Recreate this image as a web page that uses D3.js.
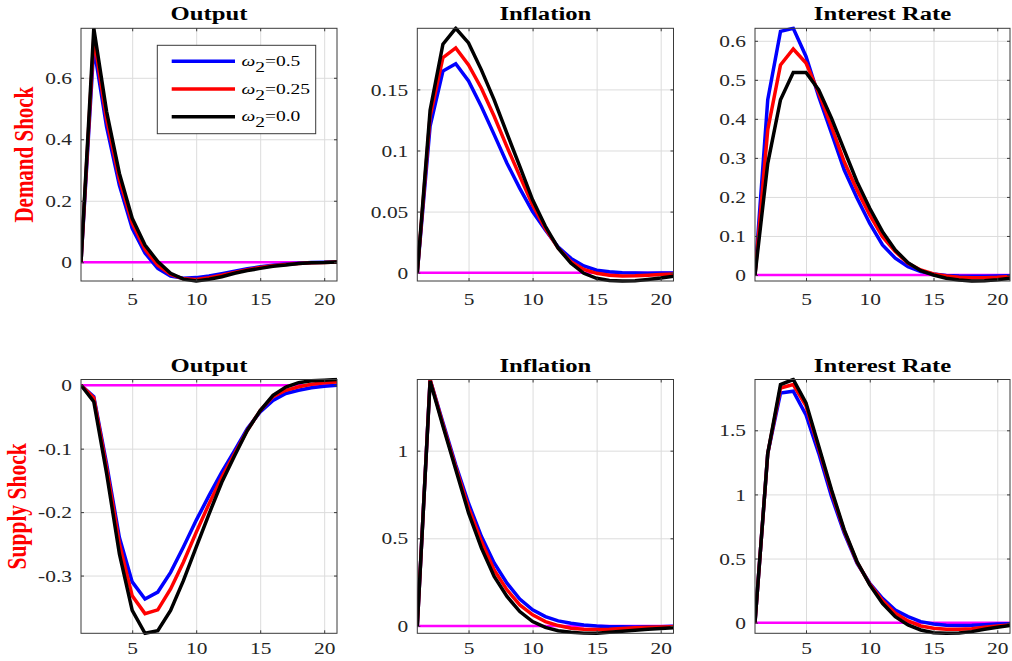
<!DOCTYPE html>
<html>
<head>
<meta charset="utf-8">
<script src="https://cdn.jsdelivr.net/npm/d3@7/dist/d3.min.js"></script>
<style>
  html, body { margin: 0; padding: 0; background: #fff; }
  svg { display: block; }
  text { font-family: 'Liberation Serif', 'Times New Roman', serif; }
</style>
</head>
<body>
<svg id="chart" width="1012" height="661"></svg>
<script>
// ---------------- DATA ----------------
const horizons = [1,2,3,4,5,6,7,8,9,10,11,12,13,14,15,16,17,18,19,20,21];
const seriesNames = ["\u03c9", "\u03c9", "\u03c9"];
const seriesValues = ["0.5", "0.25", "0.0"];
const seriesColors = ["#0000ff", "#ff0000", "#000000"];
const panelTitles = ["Output", "Inflation", "Interest Rate"];
const rowLabels = ["Demand Shock", "Supply Shock"];
const xTicks = [5, 10, 15, 20];

// Demand shock
const demandOutput_w050 = [0,0.700,0.440,0.250,0.110,0.030,-0.020,-0.045,-0.052,-0.050,-0.045,-0.037,-0.029,-0.021,-0.015,-0.010,-0.006,-0.003,-0.001,0.000,0.001];
const demandOutput_w025 = [0,0.730,0.465,0.270,0.127,0.042,-0.010,-0.040,-0.054,-0.056,-0.050,-0.042,-0.033,-0.024,-0.017,-0.011,-0.007,-0.004,-0.002,-0.001,0.001];
const demandOutput_w000 = [0,0.761,0.490,0.289,0.143,0.056,0.002,-0.036,-0.055,-0.061,-0.055,-0.047,-0.036,-0.027,-0.020,-0.013,-0.009,-0.004,-0.002,-0.001,0.001];

const demandInfl_w050 = [0,0.120,0.165,0.171,0.157,0.136,0.113,0.0896,0.069,0.050,0.035,0.021,0.0117,0.0055,0.002,0.0008,0.0000,-0.0003,-0.0004,-0.0003,-0.0002];
const demandInfl_w025 = [0,0.128,0.176,0.184,0.170,0.151,0.128,0.103,0.079,0.0555,0.036,0.020,0.009,0.0027,-0.0005,-0.002,-0.0027,-0.0025,-0.002,-0.0015,-0.001];
const demandInfl_w000 = [0,0.133,0.187,0.200,0.188,0.166,0.1415,0.114,0.087,0.0596,0.038,0.020,0.0077,-0.0005,-0.0046,-0.0064,-0.0068,-0.0066,-0.0055,-0.0044,-0.003];

const demandRate_w050 = [0,0.449,0.624,0.632,0.560,0.457,0.363,0.269,0.197,0.132,0.077,0.043,0.021,0.0085,0.0026,-0.001,-0.0026,-0.003,-0.003,-0.0025,-0.002];
const demandRate_w025 = [0,0.372,0.538,0.579,0.543,0.466,0.380,0.290,0.218,0.154,0.098,0.060,0.030,0.0128,0.0026,-0.0026,-0.006,-0.0068,-0.0068,-0.006,-0.004];
const demandRate_w000 = [0,0.286,0.449,0.519,0.519,0.474,0.402,0.320,0.239,0.171,0.111,0.064,0.0316,0.011,0.000,-0.0085,-0.0128,-0.0154,-0.0145,-0.012,-0.0085];

// Supply shock
const supplyOutput_w050 = [0,-0.018,-0.124,-0.240,-0.310,-0.337,-0.326,-0.295,-0.255,-0.213,-0.174,-0.137,-0.103,-0.068,-0.042,-0.024,-0.013,-0.008,-0.004,-0.0016,0.000];
const supplyOutput_w025 = [0,-0.020,-0.130,-0.250,-0.332,-0.360,-0.354,-0.321,-0.279,-0.232,-0.187,-0.145,-0.108,-0.071,-0.040,-0.018,-0.008,-0.0026,0.0016,0.004,0.005];
const supplyOutput_w000 = [0,-0.026,-0.139,-0.266,-0.355,-0.391,-0.387,-0.355,-0.308,-0.255,-0.203,-0.153,-0.111,-0.071,-0.040,-0.016,-0.003,0.004,0.007,0.008,0.009];

const supplyInfl_w050 = [0,1.405,1.160,0.920,0.700,0.511,0.359,0.244,0.153,0.092,0.053,0.029,0.015,0.006,0.000,-0.004,-0.005,-0.006,-0.004,-0.004,-0.002];
const supplyInfl_w025 = [0,1.406,1.150,0.905,0.674,0.483,0.320,0.206,0.120,0.063,0.025,0.002,-0.013,-0.019,-0.021,-0.019,-0.015,-0.011,-0.008,-0.006,-0.004];
const supplyInfl_w000 = [0,1.398,1.140,0.893,0.645,0.445,0.282,0.168,0.082,0.025,-0.008,-0.027,-0.036,-0.041,-0.042,-0.036,-0.030,-0.025,-0.019,-0.015,-0.011];

const supplyRate_w050 = [0,1.320,1.790,1.805,1.620,1.320,0.984,0.698,0.464,0.307,0.190,0.099,0.047,0.008,-0.010,-0.021,-0.023,-0.021,-0.016,-0.010,-0.008];
const supplyRate_w025 = [0,1.320,1.830,1.857,1.690,1.360,1.020,0.715,0.472,0.300,0.172,0.073,0.013,-0.026,-0.044,-0.052,-0.052,-0.047,-0.036,-0.026,-0.018];
const supplyRate_w000 = [0,1.320,1.857,1.896,1.714,1.375,1.036,0.724,0.477,0.294,0.151,0.047,-0.018,-0.057,-0.078,-0.083,-0.081,-0.070,-0.052,-0.036,-0.023];

const yTicksList = [
  [0, 0.2, 0.4, 0.6],
  [0, 0.05, 0.1, 0.15],
  [0, 0.1, 0.2, 0.3, 0.4, 0.5, 0.6],
  [-0.3, -0.2, -0.1, 0],
  [0, 0.5, 1],
  [0, 0.5, 1, 1.5]
];

const panelSeries = [
  [demandOutput_w050, demandOutput_w025, demandOutput_w000],
  [demandInfl_w050, demandInfl_w025, demandInfl_w000],
  [demandRate_w050, demandRate_w025, demandRate_w000],
  [supplyOutput_w050, supplyOutput_w025, supplyOutput_w000],
  [supplyInfl_w050, supplyInfl_w025, supplyInfl_w000],
  [supplyRate_w050, supplyRate_w025, supplyRate_w000]
];

// ---------------- LAYOUT ----------------
const SX = 1.3; // horizontal stretch of text in the original figure
const svg = d3.select("#chart");
const cols = [{x0: 81, x1: 337}, {x0: 417.3, x1: 673.5}, {x0: 755, x1: 1010}];
const rows = [{y0: 28.3, y1: 281, titleY: 20, xLabPad: 12}, {y0: 379.5, y1: 633.3, titleY: 372.3, xLabPad: 8.5}];
const axisColor = "#3a3a3a";
const gridColor = "#dcdcdc";
const serif = "'Liberation Serif', 'Times New Roman', serif";

function fmt(v) {
  if (v === 0) return "0";
  return String(v);
}

panelSeries.forEach((series, p) => {
  const r = rows[Math.floor(p / 3)], c = cols[p % 3];
  const all = series.flat();
  const ext = d3.extent(all);
  const x = d3.scaleLinear().domain([1, 21]).range([c.x0, c.x1]);
  const y = d3.scaleLinear().domain(ext).range([r.y1, r.y0]);
  const w = c.x1 - c.x0, h = r.y1 - r.y0;
  const g = svg.append("g");

  // grid
  g.append("g").attr("transform", `translate(0,${r.y1})`)
    .call(d3.axisBottom(x).tickValues(xTicks).tickSize(-h).tickFormat(""))
    .call(s => { s.select(".domain").remove(); s.selectAll("line").attr("stroke", gridColor).attr("stroke-width", 1); });
  g.append("g").attr("transform", `translate(${c.x0},0)`)
    .call(d3.axisLeft(y).tickValues(yTicksList[p]).tickSize(-w).tickFormat(""))
    .call(s => { s.select(".domain").remove(); s.selectAll("line").attr("stroke", gridColor).attr("stroke-width", 1); });

  // clip
  const clipId = "clip" + p;
  svg.append("clipPath").attr("id", clipId).append("rect")
    .attr("x", c.x0).attr("y", r.y0 - 2).attr("width", w).attr("height", h + 4);

  const plot = g.append("g").attr("clip-path", `url(#${clipId})`);
  // zero line
  plot.append("line").attr("x1", x(1)).attr("x2", x(21)).attr("y1", y(0)).attr("y2", y(0))
    .attr("stroke", "#ff00ff").attr("stroke-width", 2.5);
  const line = d3.line().x((d, i) => x(horizons[i])).y(d => y(d));
  series.forEach((s, k) => {
    plot.append("path").datum(s).attr("d", line)
      .attr("fill", "none").attr("stroke", seriesColors[k]).attr("stroke-width", 3.5)
      .attr("stroke-linejoin", "miter").attr("stroke-miterlimit", 4);
  });

  // box
  g.append("rect").attr("x", c.x0).attr("y", r.y0).attr("width", w).attr("height", h)
    .attr("fill", "none").attr("stroke", axisColor).attr("stroke-width", 1);

  // ticks (inward, all sides) + labels
  const tl = 3;
  const axB = g.append("g").attr("transform", `translate(0,${r.y1})`)
    .call(d3.axisBottom(x).tickValues(xTicks).tickSize(-tl).tickPadding(r.xLabPad + tl).tickFormat(d3.format("d")));
  axB.attr("font-family", null);
  axB.select(".domain").remove();
  axB.selectAll("line").attr("stroke", axisColor);
  axB.selectAll("text").style("font-family", serif).style("font-size", "16.5px").attr("fill", "#262626")
    .attr("y", r.xLabPad).attr("x", 0).attr("transform", `scale(${SX},1)`);

  const axT = g.append("g").attr("transform", `translate(0,${r.y0})`)
    .call(d3.axisTop(x).tickValues(xTicks).tickSize(-tl).tickFormat(""));
  axT.select(".domain").remove(); axT.selectAll("line").attr("stroke", axisColor);

  const axL = g.append("g").attr("transform", `translate(${c.x0},0)`)
    .call(d3.axisLeft(y).tickValues(yTicksList[p]).tickSize(-tl).tickFormat(fmt));
  axL.attr("font-family", null);
  axL.select(".domain").remove();
  axL.selectAll("line").attr("stroke", axisColor);
  axL.selectAll("text").style("font-family", serif).style("font-size", "16.5px").attr("fill", "#262626")
    .attr("x", -9 / SX).attr("dy", "0.34em").attr("transform", `scale(${SX},1)`);

  const axR = g.append("g").attr("transform", `translate(${c.x1},0)`)
    .call(d3.axisRight(y).tickValues(yTicksList[p]).tickSize(-tl).tickFormat(""));
  axR.select(".domain").remove(); axR.selectAll("line").attr("stroke", axisColor);

  // title
  svg.append("text")
    .attr("transform", `translate(${(c.x0 + c.x1) / 2},${r.titleY}) scale(${SX},1)`)
    .attr("text-anchor", "middle").style("font-family", serif).attr("font-weight", "bold")
    .style("font-size", "19px").attr("fill", "#000").text(panelTitles[p % 3]);

  // row label
  if (p % 3 === 0) {
    const rowIdx = Math.floor(p / 3);
    svg.append("text")
      .attr("transform", `translate(${rowIdx === 0 ? 32.5 : 25.5},${(r.y0 + r.y1) / 2}) scale(${SX},1) rotate(-90)`)
      .attr("text-anchor", "middle").style("font-family", serif).attr("font-weight", "bold")
      .style("font-size", rowIdx === 0 ? "21px" : "21.5px").attr("fill", "#ff0000").text(rowLabels[rowIdx]);
  }

  // legend in first panel
  if (p === 0) {
    const lg = svg.append("g");
    lg.append("rect").attr("x", 157.3).attr("y", 45.3).attr("width", 158.4).attr("height", 88.4)
      .attr("fill", "#fff").attr("stroke", axisColor).attr("stroke-width", 1);
    const ly = [61.3, 89, 116.7];
    seriesValues.forEach((v, k) => {
      lg.append("line").attr("x1", 171.7).attr("x2", 235).attr("y1", ly[k]).attr("y2", ly[k])
        .attr("stroke", seriesColors[k]).attr("stroke-width", 3.5);
      const t = lg.append("text")
        .attr("transform", `translate(241.5,${ly[k] + 4.5}) scale(${SX},1)`)
        .style("font-family", serif).style("font-size", "15px").attr("fill", "#000");
      t.append("tspan").attr("font-style", "italic").text(seriesNames[k]);
      t.append("tspan").attr("dy", 6).text("2");
      t.append("tspan").attr("dy", -6).text("=" + v);
    });
  }
});
</script>
</body>
</html>
